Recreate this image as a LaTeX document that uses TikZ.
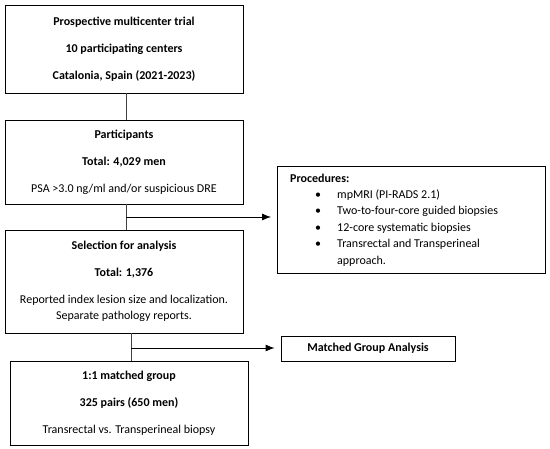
\documentclass[tikz,border=0pt]{standalone}
\usepackage{fontspec}
\setmainfont{Carlito}
\usetikzlibrary{arrows.meta}
\begin{document}
\begin{tikzpicture}[x=1pt,y=-1pt,
  box/.style={draw=black,line width=0.8pt,minimum width=238pt,inner sep=0pt,align=center,font=\fontsize{12}{16}\selectfont},
  plainline/.style={draw=black!75,line width=0.8pt},
  arr/.style={draw=black,line width=0.9pt,-{Latex[length=9pt,width=7pt]},shorten >=6pt}]
\useasboundingbox[fill=white] (0,0) rectangle (550,449);
\node[box,minimum height=88pt] (b1) at (124,49) {\textbf{Prospective multicenter trial}\\[11pt]\textbf{10 participating centers}\\[11pt]\textbf{Catalonia, Spain (2021-2023)}};
\node[box,minimum height=84pt] (b2) at (124,162) {\textbf{Participants}\\[11pt]\textbf{Total: 4,029 men}\\[11pt]PSA {>}3.0 ng/ml and/or suspicious DRE};
\node[box,minimum height=103pt] (b3) at (124,281.5) {\textbf{Selection for analysis}\\[11pt]\textbf{Total: 1,376}\\[11pt]Reported index lesion size and localization.\\Separate pathology reports.};
\node[box,minimum height=84pt] (b4) at (129,403) {\textbf{1:1 matched group}\\[11pt]\textbf{325 pairs (650 men)}\\[11pt]Transrectal vs. Transperineal biopsy};
\node[draw=black,line width=0.8pt,minimum width=268pt,minimum height=107pt,inner sep=0pt] (proc) at (411.5,219.5) {};
\node[anchor=north west,inner sep=0pt,align=left,font=\fontsize{12}{16.4}\selectfont] (proctext) at (290,173.5) {\textbf{Procedures:}\\
\hspace*{25pt}\makebox[22pt][l]{•}mpMRI (PI-RADS 2.1)\\
\hspace*{25pt}\makebox[22pt][l]{•}Two-to-four-core guided biopsies\\
\hspace*{25pt}\makebox[22pt][l]{•}12-core systematic biopsies\\
\hspace*{25pt}\makebox[22pt][l]{•}Transrectal and Transperineal\\
\hspace*{47pt}approach.};
\node[draw=black,line width=0.8pt,minimum width=174pt,minimum height=25pt,inner sep=0pt,font=\fontsize{12}{14}\selectfont\bfseries] (mga) at (368,348.5) {Matched Group Analysis};
\coordinate (j1) at (126,217);
\coordinate (j2) at (131,348);
\draw[plainline] (b1.south -| j1) -- (b2.north -| j1);
\draw[plainline] (b2.south -| j1) -- (b3.north -| j1);
\draw[arr] (j1) -- (j1 -| proc.west);
\draw[plainline] (b3.south -| j2) -- (b4.north -| j2);
\draw[arr] (j2) -- (j2 -| mga.west);
\end{tikzpicture}
\end{document}
